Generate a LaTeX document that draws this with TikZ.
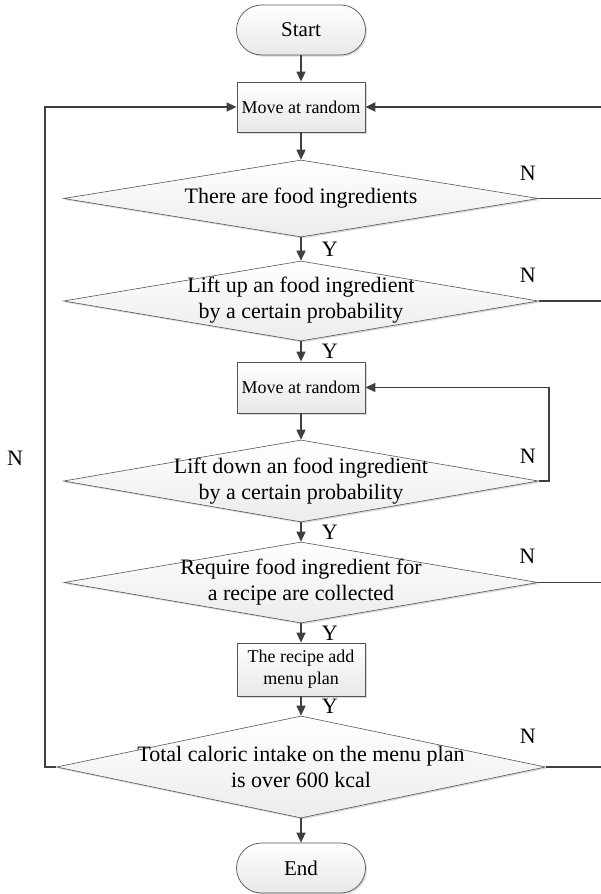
\documentclass[tikz,border=0pt]{standalone}
\usepackage{fontspec}
\setmainfont{Liberation Serif}
\usetikzlibrary{arrows.meta,shapes.geometric,shadows}
\definecolor{ln}{HTML}{404040}
\definecolor{bd}{HTML}{555555}
\begin{document}
\begin{tikzpicture}[x=1pt,y=-1pt,
  conn/.style={draw=ln, line width=1.5pt, -{Triangle[length=10pt,width=9pt]}},
  plain/.style={draw=ln, line width=1.5pt},
  shad/.style={drop shadow={shadow xshift=1.5pt,shadow yshift=-1.5pt,fill=black,opacity=0.15}},
  term/.style={draw=bd, line width=0.7pt, rounded corners=25pt, minimum width=129pt, minimum height=50pt, top color=white, bottom color=gray!18, shad, font=\fontsize{21}{25}\selectfont},
  procbox/.style={draw=bd, line width=0.8pt, minimum width=128pt, top color=white, bottom color=gray!18, shad, align=center, font=\fontsize{18}{22}\selectfont, inner sep=0pt},
  dia/.style={diamond, draw=bd, line width=0.6pt, inner sep=0pt, top color=white, bottom color=gray!15, shad},
  dtext/.style={align=center, font=\fontsize{22}{26}\selectfont, inner sep=0pt},
  lab/.style={font=\fontsize{22}{25}\selectfont, inner sep=0pt},
  ylab/.style={lab, anchor=west, xshift=20pt},
]
\useasboundingbox (0,0) rectangle (601,894);
\coordinate (re) at (606,0);
\coordinate (lx) at (549,0);
\coordinate (lf) at (45,0);

\node[term] (start) at (301,30) {Start};
\node[procbox, minimum height=50pt] (m1) at (301,107) {Move at random};
\node[dia, minimum width=475pt, minimum height=77pt] (d1) at (301,198.5) {};
\node[dtext] (t1) at (d1.center) {There are food ingredients};
\node[dia, minimum width=475pt, minimum height=80pt] (d2) at (301,301) {};
\node[dtext] (t2) at ([yshift=1pt]d2.center) {Lift up an food ingredient\\by a certain probability};
\node[procbox, minimum height=51pt] (m2) at (301,387.5) {Move at random};
\node[dia, minimum width=475pt, minimum height=82pt] (d3) at (301,481) {};
\node[dtext] (t3) at (d3.center) {Lift down an food ingredient\\by a certain probability};
\node[dia, minimum width=474pt, minimum height=81pt] (d4) at (301,582.5) {};
\node[dtext] (t4) at (d4.center) {Require food ingredient for\\a recipe are collected};
\node[procbox, minimum height=53pt] (m3) at (301,669.5) {The recipe add\\menu plan};
\node[dia, minimum width=489pt, minimum height=102pt] (d5) at (301,767) {};
\node[dtext] (t5) at (d5.center) {Total caloric intake on the menu plan\\is over 600 kcal};
\node[term] (end) at (301,868) {End};

\draw[conn] (start) -- (m1);
\draw[conn] (m1) -- (d1);
\draw[conn] (d1) -- node[ylab]{Y} (d2);
\draw[conn] (d2) -- node[ylab]{Y} (m2);
\draw[conn] (m2) -- (d3);
\draw[conn] (d3) -- node[ylab]{Y} (d4);
\draw[conn] (d4) -- node[ylab]{Y} (m3);
\draw[conn] (m3) -- node[ylab]{Y} (d5);
\draw[conn] (d5) -- (end);

\draw[plain] (d1.east) -- (d1.east -| re);
\draw[plain] (d2.east) -- (d2.east -| re);
\draw[plain] (d4.east) -- (d4.east -| re);
\draw[plain] (d5.east) -- (d5.east -| re);
\draw[conn, line width=2.2pt] (m1.east -| re) -- (m1.east);
\draw[conn] (d3.east) -- (d3.east -| lx) |- (m2.east);
\draw[conn] (d5.west) -- (d5.west -| lf) |- (m1.west);

\node[lab] (n1) at ([shift={(-11,-25)}]d1.east) {N};
\node[lab] (n2) at ([shift={(-11,-26)}]d2.east) {N};
\node[lab] (n3) at ([shift={(-11,-25)}]d3.east) {N};
\node[lab] (n4) at ([shift={(-11,-26)}]d4.east) {N};
\node[lab] (n5) at ([shift={(-18,-31)}]d5.east) {N};
\node[lab] (nl) at (15,458) {N};
\end{tikzpicture}
\end{document}
